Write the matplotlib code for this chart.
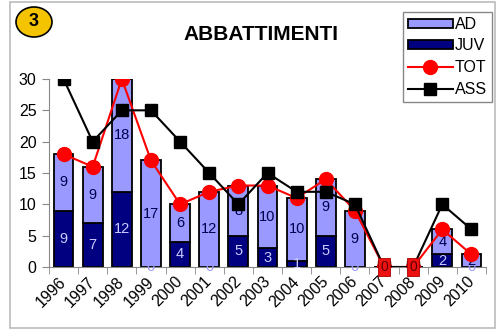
import numpy as np
import matplotlib
matplotlib.use('Agg')
import matplotlib.pyplot as plt
import matplotlib.transforms as mtransforms
from matplotlib.patches import Ellipse, Rectangle

plt.rcParams['font.family'] = ['Liberation Sans', 'DejaVu Sans']

# data
years = ['1996', '1997', '1998', '1999', '2000', '2001', '2002', '2003',
         '2004', '2005', '2006', '2007', '2008', '2009', '2010']
juv = [9, 7, 12, 0, 4, 0, 5, 3, 1, 5, 0, 0, 0, 2, 0]
ad = [9, 9, 18, 17, 6, 12, 8, 10, 10, 9, 9, 0, 0, 4, 2]
tot = [18, 16, 30, 17, 10, 12, 13, 13, 11, 14, 9, 0, 0, 6, 2]
ass = [30, 20, 25, 25, 20, 15, 10, 15, 12, 12, 10, 0, 0, 10, 6]

W, H = 496, 329
fig = plt.figure(figsize=(W / 100, H / 100), dpi=100)
ax = fig.add_axes([49 / W, 1 - 267 / H, 437 / W, 188 / H])

x = np.arange(len(years))
light = '#9999ff'
navy = '#000080'

ax.bar(x, juv, width=0.68, color=navy, edgecolor='black', linewidth=1.3, label='JUV', zorder=2)
ax.bar(x, ad, width=0.68, bottom=juv, color=light, edgecolor='black', linewidth=1.3, label='AD', zorder=2)

# segment labels
for i in range(len(years)):
    if tot[i] == 0:
        ax.text(x[i], 0, '0', ha='center', va='center', fontsize=10, color='#600000', zorder=6,
                bbox=dict(boxstyle='square,pad=0.15', facecolor='#ee1111', edgecolor='#aa0000', lw=0.6))
        continue
    if juv[i]:
        ax.text(x[i], juv[i] / 2, str(juv[i]), ha='center', va='center',
                fontsize=10.5, color='#ccccff', zorder=3)
    else:
        # zero labels in Excel blend with the bar colour
        ax.text(x[i], 0, '0', ha='center', va='center', fontsize=10.5, color=light, zorder=3)
    ax.text(x[i], juv[i] + ad[i] / 2, str(ad[i]), ha='center', va='center',
            fontsize=10.5, color='#000050', zorder=3)

ax.plot(x, tot, color='red', lw=1.5, marker='o', markersize=10, label='TOT', zorder=4)
ax.plot(x, ass, color='black', lw=1.5, marker='s', markersize=9, label='ASS', zorder=5)

ax.set_xlim(-0.5, len(years) - 0.5)
ax.set_ylim(0, 30)
ax.set_yticks([0, 5, 10, 15, 20, 25, 30])
ax.tick_params(axis='y', length=5, color='#888888', labelsize=11.5, pad=4)

# ticks at category boundaries, labels at centers
ax.set_xticks(np.arange(-0.5, len(years), 1), minor=True)
ax.set_xticks(x)
ax.set_xticklabels(years, rotation=45, ha='right', va='top', rotation_mode='anchor', fontsize=11.5)
ax.tick_params(axis='x', which='major', length=0, pad=5)
ax.tick_params(axis='x', which='minor', length=5, color='#888888')
offset = mtransforms.ScaledTranslation(-5 / 100, 0, fig.dpi_scale_trans)
for lab in ax.get_xticklabels():
    lab.set_transform(lab.get_transform() + offset)

for s in ['top', 'right']:
    ax.spines[s].set_visible(False)
ax.spines['left'].set_color('#888888')
ax.spines['bottom'].set_color('#888888')

# legend
handles, labels = ax.get_legend_handles_labels()
order = [labels.index(n) for n in ['AD', 'JUV', 'TOT', 'ASS']]
fig.legend([handles[k] for k in order], [labels[k] for k in order],
           loc='upper left', bbox_to_anchor=(403 / W, 1 - 12 / H), bbox_transform=fig.transFigure,
           borderaxespad=0, fancybox=False, edgecolor='#888888', framealpha=1,
           fontsize=11.5, handlelength=2.8, handleheight=0.5, handletextpad=0.15,
           labelspacing=0.42, borderpad=0.3)

# title and badge
fig.text(261 / W, 1 - 35 / H, 'ABBATTIMENTI', ha='center', va='center', fontsize=15, fontweight='bold')
fig.patches.append(Ellipse((34 / W, 1 - 22 / H), 36 / W, 30 / H, transform=fig.transFigure,
                           facecolor='#f5c400', edgecolor='black', lw=1.2))
fig.text(34 / W, 1 - 22 / H, '3', ha='center', va='center', fontsize=13, fontweight='bold')

# outer frame
fig.patches.append(Rectangle((10 / W, 1 / H), 485 / W, 326 / H, transform=fig.transFigure,
                             fill=False, edgecolor='#bbbbbb', lw=1.2))

plt.savefig('out.png', dpi=100)
